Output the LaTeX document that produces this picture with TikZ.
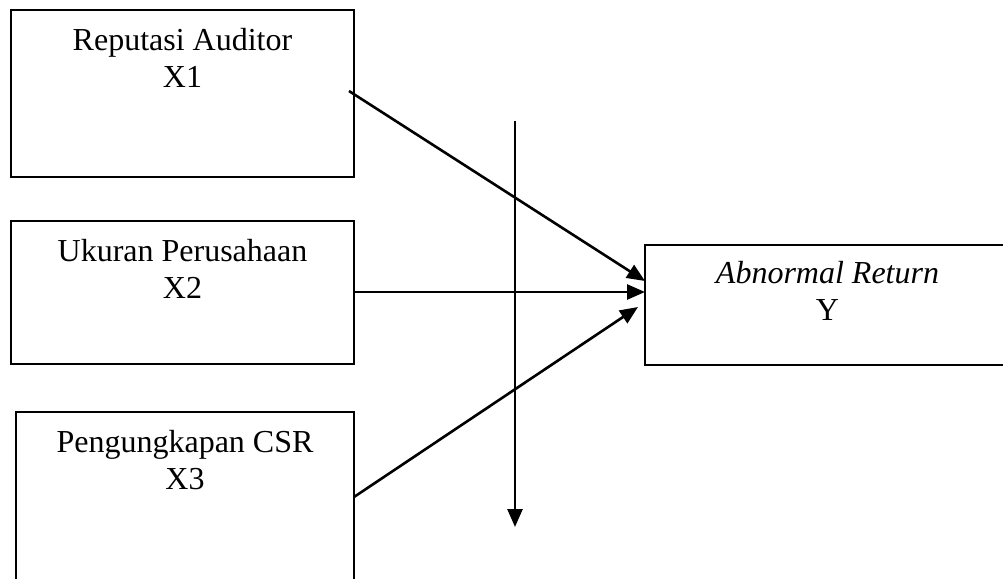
\documentclass[tikz,border=0pt]{standalone}
\usepackage{fontspec}
\setmainfont{Liberation Serif}
\usetikzlibrary{arrows.meta,fit}

\begin{document}
\begin{tikzpicture}[x=0.5pt,y=-0.5pt,
			box_style/.style={draw, black, line width=1.1pt, inner sep=0pt},
			label_style/.style={align=center, inner sep=0pt, anchor=base, font=\fontsize{16}{18.5}\selectfont},
			arrow_style/.style={line width=1.3pt, black, -{Triangle[length=9pt,width=7.5pt]}}]
			
			\useasboundingbox (0,0) rectangle (1003,579);
			\clip (0,0) rectangle (1003,579);
			
			% variable boxes
			\node[box_style, fit={(11,10) (354,177)}] (x1) {};
			\node[box_style, fit={(11,221) (354,364)}] (x2) {};
			\node[box_style, fit={(16,412) (354,600)}] (x3) {};
			\node[box_style, fit={(645,245) (1010,365)}] (y) {};
			
			\node[label_style] (x1_label) at (182.5,87) {Reputasi Auditor\\X1};
			\node[label_style] (x2_label) at (182.5,298) {Ukuran Perusahaan\\X2};
			\node[label_style] (x3_label) at (185,489) {Pengungkapan CSR\\X3};
			\node[label_style] (y_label) at (827.5,320) {\textit{Abnormal Return}\\Y};
			
			% arrow ends
			\foreach \x/\y/\n in {349/91/x1_out,354/292/x2_out,354/497/x3_out,645/281/y_in1,645/292/y_in2,638/307/y_in3,515/121/v_top,515/527/v_bot}{
				\coordinate (\n) at (\x,\y);}
			
			\foreach \a/\b in {x1_out/y_in1,x2_out/y_in2,x3_out/y_in3,v_top/v_bot}{
				\draw[arrow_style] (\a) -- (\b);}
		\end{tikzpicture}
\end{document}
